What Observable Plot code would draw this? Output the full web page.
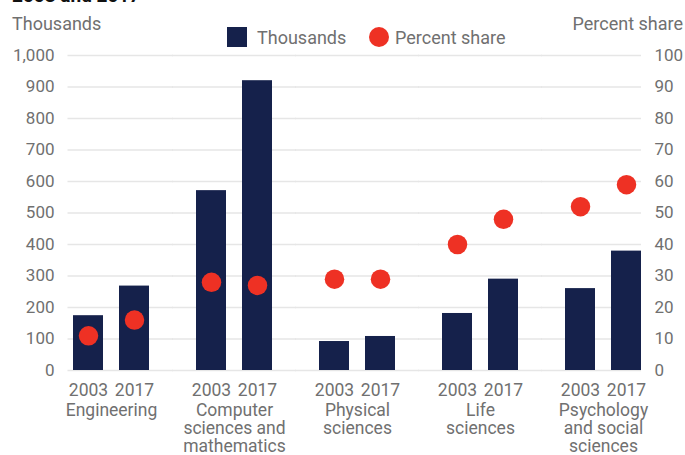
<!DOCTYPE html>
<html>
<head>
<meta charset="utf-8">
<script src="https://cdn.jsdelivr.net/npm/d3@7"></script>
<script src="https://cdn.jsdelivr.net/npm/@observablehq/plot@0.6"></script>
<style>
  html, body { margin: 0; padding: 0; background: #fff; }
  #wrap { position: relative; width: 685px; height: 455px; overflow: hidden; font-family: Roboto, sans-serif; color: #707070; }
  #header { position: relative; z-index: 1; width: 685px; height: 40px; }
  .t { position: absolute; font-size: 18px; line-height: 18px; white-space: nowrap; }
  #title { position: absolute; left: 12px; top: -14px; font-size: 19px; line-height: 19px; font-weight: 700; color: #111; white-space: nowrap; }
  .sw { position: absolute; }
  svg { display: block; }
</style>
</head>
<body>
<div id="wrap">
  <div id="header">
    <div id="title">2003 and 2017</div>
    <div class="t" id="ltitle" style="left:12px; top:15px;"></div>
    <div class="t" id="rtitle" style="right:2px; top:15px;"></div>
    <div class="sw" id="sw1" style="left:227px; top:27px; width:20px; height:20px;"></div>
    <div class="t" id="lg1" style="left:257px; top:29px;"></div>
    <div class="sw" id="sw2" style="left:369px; top:27px; width:20px; height:20px; border-radius:50%;"></div>
    <div class="t" id="lg2" style="left:395px; top:29px;"></div>
  </div>
  <div id="chart"></div>
</div>
<script>
// ---- data ----
const fields = [
  "Engineering",
  "Computer\nsciences and\nmathematics",
  "Physical\nsciences",
  "Life\nsciences",
  "Psychology\nand social\nsciences"
];
const years = ["2003", "2017"];
const thousands2003 = [174, 571, 92, 181, 260];
const thousands2017 = [268, 920, 108, 290, 379];
const share2003 = [11, 28, 29, 40, 52];
const share2017 = [16, 27, 29, 48, 59];
const leftTicks = [0, 100, 200, 300, 400, 500, 600, 700, 800, 900, 1000];
const rightTicks = [0, 10, 20, 30, 40, 50, 60, 70, 80, 90, 100];
const seriesNames = ["Thousands", "Percent share"];
const barColor = "#15214b";
const dotColor = "#ee3124";

// ---- table ----
const rows = [];
fields.forEach((f, i) => {
  rows.push({field: f, year: years[0], thousands: thousands2003[i], share: share2003[i]});
  rows.push({field: f, year: years[1], thousands: thousands2017[i], share: share2017[i]});
});
const ratio = leftTicks[leftTicks.length - 1] / rightTicks[rightTicks.length - 1];

// grid rows (one set per facet) so the lines run through the gaps between groups
const gridRows = (fs) => fs.flatMap(f => leftTicks.map(t => ({field: f, t})));
const gridStyle = {y: "t", fx: "field", stroke: "#e6e6e6", strokeWidth: 1.5};

// header texts
document.getElementById("ltitle").textContent = seriesNames[0];
document.getElementById("rtitle").textContent = seriesNames[1];
document.getElementById("lg1").textContent = seriesNames[0];
document.getElementById("lg2").textContent = seriesNames[1];
document.getElementById("sw1").style.background = barColor;
document.getElementById("sw2").style.background = dotColor;

const chart = Plot.plot({
  width: 685,
  height: 415,
  marginTop: 15,
  marginBottom: 85,
  marginLeft: 66,
  marginRight: 42,
  style: {fontFamily: "Roboto, sans-serif", fontSize: "18px", color: "#707070", background: "transparent", overflow: "visible"},
  fx: {domain: fields, paddingInner: 0.384, paddingOuter: 0.03, align: 0.8, label: null},
  x: {domain: years, paddingInner: 0.348, paddingOuter: 0, label: null},
  y: {domain: [0, 1000], label: null},
  marks: [
    Plot.ruleY(gridRows(fields.slice(0, 1)), {...gridStyle, insetLeft: -5.5, insetRight: -24}),
    Plot.ruleY(gridRows(fields.slice(1, -1)), {...gridStyle, insetLeft: -24, insetRight: -24}),
    Plot.ruleY(gridRows(fields.slice(-1)), {...gridStyle, insetLeft: -24, insetRight: 0}),
    Plot.barY(rows, {fx: "field", x: "year", y: "thousands", fill: barColor}),
    Plot.dot(rows, {fx: "field", x: "year", y: d => d.share * ratio, r: 9.75, fill: dotColor, stroke: "none"}),
    Plot.axisY(leftTicks, {anchor: "left", tickSize: 0, tickPadding: 19, label: null, fontSize: 17}),
    Plot.axisY(leftTicks, {anchor: "right", tickSize: 0, tickPadding: 13, label: null, fontSize: 17,
      tickFormat: d => String(rightTicks[leftTicks.indexOf(d)])}),
    Plot.axisX({anchor: "bottom", tickSize: 0, tickPadding: 13, label: null, fontSize: 17.5}),
    Plot.axisFx({anchor: "bottom", tickSize: 0, tickPadding: 33, label: null, fontSize: 17.5, lineHeight: 1.03})
  ]
});
document.getElementById("chart").appendChild(chart);
</script>
</body>
</html>
